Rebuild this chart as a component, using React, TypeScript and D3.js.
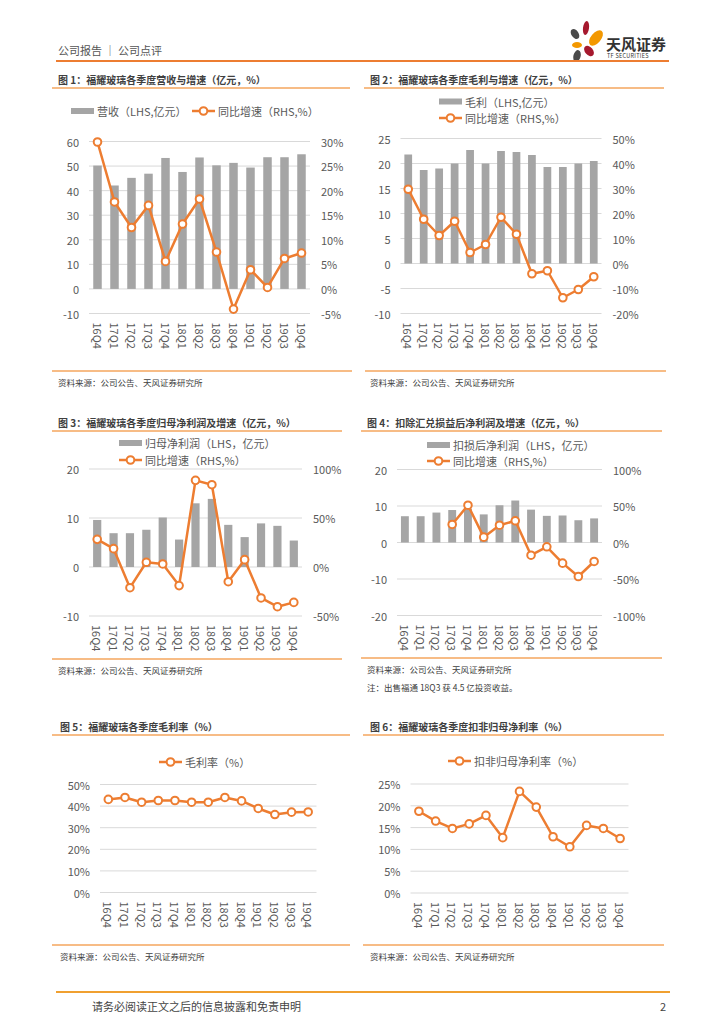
import * as d3 from "d3";

const FONT = '"Noto Sans CJK SC", "Noto Sans", sans-serif';
const ORANGE = "#ED7D31";
const BAR = "#A5A5A5";
const GRID = "#D9D9D9";
const AXIS_TEXT = "#595959";
const RULE = "#F4A65E";

const quarters = ["16Q4", "17Q1", "17Q2", "17Q3", "17Q4", "18Q1", "18Q2", "18Q3", "18Q4", "19Q1", "19Q2", "19Q3", "19Q4"];

// 图1 营收（亿元）与同比（%）
const revenue = [50.2, 42.1, 45.2, 46.9, 53.3, 47.6, 53.5, 50.3, 51.3, 49.4, 53.6, 53.6, 54.8];
const revenueYoy = [29.9, 17.7, 12.5, 17.0, 5.6, 13.2, 18.3, 7.5, -4.1, 3.9, 0.3, 6.2, 7.3];
// 图2 毛利
const grossProfit = [21.8, 18.7, 19.0, 20.0, 22.7, 20.0, 22.5, 22.3, 21.7, 19.3, 19.3, 20.0, 20.5];
const grossProfitYoy = [29.7, 17.7, 11.2, 16.9, 4.4, 7.6, 18.5, 11.7, -4.1, -2.9, -13.7, -10.4, -5.3];
// 图3 归母净利润
const netProfit = [9.6, 6.9, 6.9, 7.6, 10.1, 5.6, 13.0, 13.9, 8.6, 6.1, 8.9, 8.4, 5.4];
const netProfitYoy = [28.2, 18.7, -21.1, 4.8, 3.1, -19.0, 88.4, 84.0, -15.0, 7.5, -31.6, -40.5, -36.1];
// 图4 扣损后净利润
const adjProfit = [7.2, 7.2, 8.2, 8.9, 9.3, 7.7, 10.2, 11.5, 9.0, 7.3, 7.4, 6.1, 6.6];
const adjProfitYoy = [null, null, null, 24.7, 51.1, 7.3, 23.7, 29.7, -17.4, -5.9, -28.3, -46.6, -26.0];
// 图5 毛利率, 图6 扣非归母净利率
const grossMargin = [43.1, 44.0, 41.8, 42.6, 42.6, 41.8, 41.8, 44.0, 42.4, 38.9, 36.1, 37.2, 37.3];
const adjNetMargin = [18.75, 16.5, 14.8, 15.85, 17.8, 12.7, 23.3, 19.7, 12.9, 10.6, 15.5, 14.8, 12.5];

const ticks1L = [-10, 0, 10, 20, 30, 40, 50, 60];
const ticks1R = [-5, 0, 5, 10, 15, 20, 25, 30];
const ticks2L = [-10, -5, 0, 5, 10, 15, 20, 25];
const ticks2R = [-20, -10, 0, 10, 20, 30, 40, 50];
const ticks3L = [-10, 0, 10, 20];
const ticks3R = [-50, 0, 50, 100];
const ticks4L = [-20, -10, 0, 10, 20];
const ticks4R = [-100, -50, 0, 50, 100];
const ticks5 = [0, 10, 20, 30, 40, 50];
const ticks6 = [0, 5, 10, 15, 20, 25];

const pct = (v: number) => v + "%";
const num = (v: number) => String(v);

type ChartProps = {
  bars?: number[];
  line: (number | null)[];
  leftTicks: number[];
  rightTicks?: number[];
  leftFormat: (v: number) => string;
  left: number;
  right: number;
  top: number;
  bottom: number;
  fontSize?: number;
};

function QuarterChart({ bars, line, leftTicks, rightTicks, leftFormat, left, right, top, bottom, fontSize = 11 }: ChartProps) {
  const x = d3.scaleBand<string>().domain(quarters).range([left, right]).paddingInner(0.5).paddingOuter(0.25);
  const yLeft = d3.scaleLinear().domain([leftTicks[0], leftTicks[leftTicks.length - 1]]).range([bottom, top]);
  const yRight = rightTicks
    ? d3.scaleLinear().domain([rightTicks[0], rightTicks[rightTicks.length - 1]]).range([bottom, top])
    : yLeft;
  const cx = (i: number) => x(quarters[i])! + x.bandwidth() / 2;

  const path = d3
    .line<number | null>()
    .defined((v) => v != null)
    .x((_, i) => cx(i))
    .y((v) => yRight(v as number))(line);

  return (
    <g fontFamily={FONT}>
      {leftTicks.map((t) => (
        <line key={"g" + t} x1={left} x2={right} y1={yLeft(t)} y2={yLeft(t)} stroke={GRID} strokeWidth={1} />
      ))}
      {leftTicks.map((t) => (
        <text key={"l" + t} x={left - 10} y={yLeft(t)} textAnchor="end" dominantBaseline="central" fontSize={fontSize} fill={AXIS_TEXT}>
          {leftFormat(t)}
        </text>
      ))}
      {rightTicks &&
        rightTicks.map((t) => (
          <text key={"r" + t} x={right + 11} y={yRight(t)} textAnchor="start" dominantBaseline="central" fontSize={fontSize} fill={AXIS_TEXT}>
            {pct(t)}
          </text>
        ))}
      {bars &&
        bars.map((v, i) => (
          <rect
            key={"b" + i}
            x={x(quarters[i])}
            width={x.bandwidth()}
            y={yLeft(Math.max(0, v))}
            height={Math.abs(yLeft(v) - yLeft(0))}
            fill={BAR}
          />
        ))}
      <path d={path || ""} fill="none" stroke={ORANGE} strokeWidth={2.5} strokeLinejoin="round" />
      {line.map((v, i) =>
        v == null ? null : (
          <circle key={"m" + i} cx={cx(i)} cy={yRight(v)} r={3.8} fill="#fff" stroke={ORANGE} strokeWidth={2} />
        )
      )}
      {quarters.map((q, i) => (
        <text
          key={"x" + q}
          transform={`translate(${cx(i)},${bottom + 9}) rotate(90)`}
          textAnchor="start"
          dominantBaseline="central"
          fontSize={fontSize}
          fill={AXIS_TEXT}
        >
          {q}
        </text>
      ))}
    </g>
  );
}

function BoxLegend({ x, y, label }: { x: number; y: number; label: string }) {
  return (
    <g fontFamily={FONT}>
      <rect x={x} y={y - 3} width={23} height={6} fill={BAR} />
      <text x={x + 26} y={y} dominantBaseline="central" fontSize={11} fill={AXIS_TEXT}>
        {label}
      </text>
    </g>
  );
}

function LineLegend({ x, y, label }: { x: number; y: number; label: string }) {
  return (
    <g fontFamily={FONT}>
      <line x1={x} x2={x + 23} y1={y} y2={y} stroke={ORANGE} strokeWidth={2.5} />
      <circle cx={x + 11.5} cy={y} r={3.8} fill="#fff" stroke={ORANGE} strokeWidth={2} />
      <text x={x + 26} y={y} dominantBaseline="central" fontSize={11} fill={AXIS_TEXT}>
        {label}
      </text>
    </g>
  );
}

function Title({ x, y, x1, x2, text }: { x: number; y: number; x1: number; x2: number; text: string }) {
  return (
    <g fontFamily={FONT}>
      <text x={x} y={y} fontSize={10} fontWeight="bold" fill="#404040" dominantBaseline="central">
        {text}
      </text>
      <line x1={x1} x2={x2} y1={y + 9} y2={y + 9} stroke={RULE} strokeWidth={1.5} />
    </g>
  );
}

function Source({ x, y, x1, x2 }: { x: number; y: number; x1: number; x2: number }) {
  return (
    <g fontFamily={FONT}>
      <line x1={x1} x2={x2} y1={y - 11} y2={y - 11} stroke={RULE} strokeWidth={1.5} />
      <text x={x} y={y} fontSize={8.5} fill="#404040" dominantBaseline="central">
        资料来源：公司公告、天风证券研究所
      </text>
    </g>
  );
}

function Logo() {
  return (
    <g>
      <ellipse cx={575} cy={34} rx={3.6} ry={5.5} transform="rotate(-35 575 34)" fill="#4A4A4A" />
      <ellipse cx={586} cy={28} rx={3} ry={7} transform="rotate(8 586 28)" fill="#A6192E" />
      <ellipse cx={596} cy={38} rx={5} ry={9} transform="rotate(40 596 38)" fill="#F39800" />
      <ellipse cx={577} cy={45} rx={5} ry={3} fill="#F39800" />
      <ellipse cx={589} cy={51} rx={4} ry={6} transform="rotate(-40 589 51)" fill="#A6192E" />
      <ellipse cx={577} cy={56} rx={3.6} ry={6} transform="rotate(15 577 56)" fill="#4A4A4A" />
      <text x={606} y={43} fontFamily={FONT} fontSize={15} fontWeight="bold" fill="#333" dominantBaseline="central">
        天风证券
      </text>
      <text x={607} y={56} fontFamily={FONT} fontSize={5.5} fill="#333" dominantBaseline="central" letterSpacing={0.3}>
        TF SECURITIES
      </text>
    </g>
  );
}

export default function App() {
  return (
    <svg
      width={724}
      height={1024}
      viewBox="0 0 724 1024"
      style={{ position: "absolute", left: 0, top: 0, background: "#fff" }}
    >
      {/* header */}
      <text x={58} y={50} fontFamily={FONT} fontSize={11} fill="#555" dominantBaseline="central">
        公司报告 ｜ 公司点评
      </text>
      <Logo />
      <line x1={56} x2={669} y1={61} y2={61} stroke="#ED7D31" strokeWidth={2} />

      {/* 图1 */}
      <Title x={58} y={79} x1={52} x2={350} text="图 1：福耀玻璃各季度营收与增速（亿元，%）" />
      <BoxLegend x={71} y={111} label="营收（LHS,亿元）" />
      <LineLegend x={192} y={111} label="同比增速（RHS,%）" />
      <QuarterChart bars={revenue} line={revenueYoy} leftTicks={ticks1L} rightTicks={ticks1R} leftFormat={num}
        left={89} right={310} top={141.5} bottom={313.5} />
      <Source x={58} y={382} x1={52} x2={352} />

      {/* 图2 */}
      <Title x={370} y={79} x1={364} x2={664} text="图 2：福耀玻璃各季度毛利与增速（亿元，%）" />
      <BoxLegend x={439} y={101.5} label="毛利（LHS,亿元）" />
      <LineLegend x={439} y={118} label="同比增速（RHS,%）" />
      <QuarterChart bars={grossProfit} line={grossProfitYoy} leftTicks={ticks2L} rightTicks={ticks2R} leftFormat={num}
        left={400.5} right={601.5} top={138.5} bottom={313.5} />
      <Source x={370} y={382} x1={365} x2={666} />

      {/* 图3 */}
      <Title x={58} y={422} x1={52} x2={342} text="图 3：福耀玻璃各季度归母净利润及增速（亿元，%）" />
      <BoxLegend x={119} y={443} label="归母净利润（LHS，亿元）" />
      <LineLegend x={119} y={460} label="同比增速（RHS,%）" />
      <QuarterChart bars={netProfit} line={netProfitYoy} leftTicks={ticks3L} rightTicks={ticks3R} leftFormat={num}
        left={89} right={302} top={469} bottom={616} />
      <Source x={58} y={670} x1={52} x2={342} />

      {/* 图4 */}
      <Title x={367} y={422} x1={361} x2={662} text="图 4：扣除汇兑损益后净利润及增速（亿元，%）" />
      <BoxLegend x={427} y={445} label="扣损后净利润（LHS，亿元）" />
      <LineLegend x={427} y={461} label="同比增速（RHS,%）" />
      <QuarterChart bars={adjProfit} line={adjProfitYoy} leftTicks={ticks4L} rightTicks={ticks4R} leftFormat={num}
        left={397} right={602} top={469.5} bottom={615.5} />
      <Source x={367} y={669} x1={361} x2={662} />
      <text x={367} y={687} fontFamily={FONT} fontSize={8.5} fill="#404040" dominantBaseline="central">
        注：出售福通 18Q3 获 4.5 亿投资收益。
      </text>

      {/* 图5 */}
      <Title x={60} y={726} x1={52} x2={350} text="图 5：福耀玻璃各季度毛利率（%）" />
      <LineLegend x={159} y={762} label="毛利率（%）" />
      <QuarterChart line={grossMargin} leftTicks={ticks5} leftFormat={pct}
        left={100} right={316.5} top={784.5} bottom={892.5} />
      <Source x={60} y={956} x1={52} x2={350} />

      {/* 图6 */}
      <Title x={370} y={726} x1={363} x2={664} text="图 6：福耀玻璃各季度扣非归母净利率（%）" />
      <LineLegend x={448} y={761} label="扣非归母净利率（%）" />
      <QuarterChart line={adjNetMargin} leftTicks={ticks6} leftFormat={pct}
        left={410.5} right={628.5} top={784} bottom={893} />
      <Source x={370} y={956} x1={363} x2={664} />

      {/* footer */}
      <line x1={56} x2={670} y1={992} y2={992} stroke="#F0A030" strokeWidth={2} />
      <text x={92} y={1006} fontFamily={FONT} fontSize={11} fill="#444" dominantBaseline="central">
        请务必阅读正文之后的信息披露和免责申明
      </text>
      <text x={666} y={1006} fontFamily={FONT} fontSize={11} fill="#444" textAnchor="end" dominantBaseline="central">
        2
      </text>
    </svg>
  );
}
